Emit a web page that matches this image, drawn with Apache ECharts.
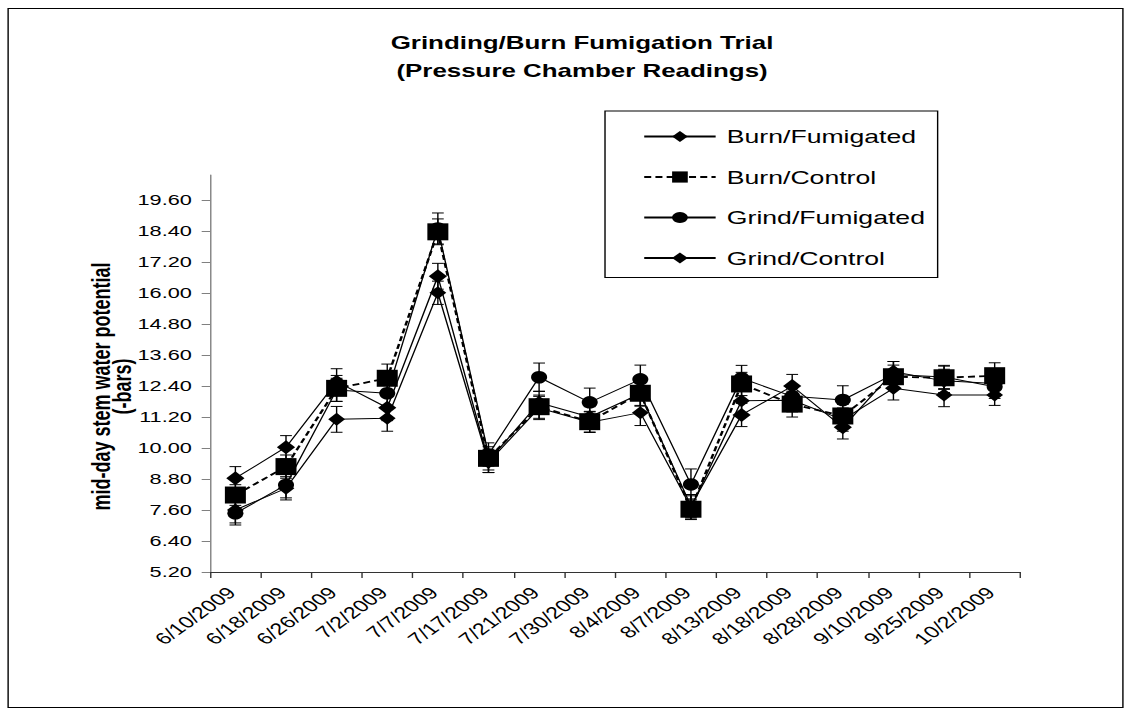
<!DOCTYPE html>
<html>
<head>
<meta charset="utf-8">
<script src="https://cdn.jsdelivr.net/npm/echarts@6/dist/echarts.min.js"></script>
<style>
html,body{margin:0;padding:0;background:#fff;overflow:hidden}
#wrap{width:1133px;height:717px;overflow:hidden}
#c{width:809px;height:717px;transform:scaleX(1.40049);transform-origin:0 0}
</style>
</head>
<body>
<div id="wrap"><div id="c"></div></div>
<script>
const categories = ['6/10/2009','6/18/2009','6/26/2009','7/2/2009','7/7/2009','7/17/2009','7/21/2009','7/30/2009','8/4/2009','8/7/2009','8/13/2009','8/18/2009','8/28/2009','9/10/2009','9/25/2009','10/2/2009'];
const burnFumigated = [8.83,10.03,12.57,11.56,16.65,9.50,11.75,11.20,12.10,7.75,11.28,12.40,10.80,12.95,12.60,12.50];
const burnControl   = [8.18,9.28,12.31,12.70,18.37,9.60,11.60,11.02,12.12,7.63,12.48,11.70,11.24,12.76,12.72,12.80];
const grindFumigated= [7.47,8.57,12.25,12.12,18.50,9.75,12.74,11.77,12.66,8.59,12.70,12.00,11.86,12.85,12.75,12.37];
const grindControl  = [7.60,8.44,11.11,11.15,16.01,9.45,11.55,11.00,11.37,7.70,11.83,11.85,11.10,12.31,12.05,12.05];
const errBurnFumigated = [0.45,0.45,0.50,0.50,0.50,0.45,0.45,0.40,0.45,0.45,0.45,0.45,0.45,0.40,0.45,0.40];
const errBurnControl   = [0.40,0.45,0.50,0.55,0.50,0.45,0.45,0.40,0.50,0.40,0.45,0.50,0.45,0.45,0.45,0.50];
const errGrindFumigated= [0.45,0.50,0.45,0.50,0.60,0.45,0.55,0.55,0.55,0.60,0.50,0.45,0.55,0.50,0.45,0.45];
const errGrindControl  = [0.50,0.45,0.50,0.50,0.45,0.40,0.45,0.40,0.50,0.45,0.50,0.45,0.45,0.45,0.45,0.40];
const yTicks = [5.2,6.4,7.6,8.8,10.0,11.2,12.4,13.6,14.8,16.0,17.2,18.4,19.6];

const chart = echarts.init(document.getElementById('c'), null, {renderer:'svg', width:809, height:717});
const font = 'Liberation Sans, Arial, sans-serif';

function errSeries(name, vals, errs){
  return {
    type:'custom', name: name+' err', silent:true, z:1,
    data: vals.map((v,i)=>[i, v-errs[i], v+errs[i]]),
    renderItem:function(params, api){
      const lo = api.coord([api.value(0), api.value(1)]);
      const hi = api.coord([api.value(0), api.value(2)]);
      const w = 4.2;
      const st = {stroke:'#000', lineWidth:1};
      return {type:'group', children:[
        {type:'line', shape:{x1:lo[0],y1:lo[1],x2:hi[0],y2:hi[1]}, style:st},
        {type:'line', shape:{x1:lo[0]-w,y1:lo[1],x2:lo[0]+w,y2:lo[1]}, style:st},
        {type:'line', shape:{x1:hi[0]-w,y1:hi[1],x2:hi[0]+w,y2:hi[1]}, style:st}
      ]};
    }
  };
}
function lineSeries(name, vals, symbol, size, dashed){
  return {
    type:'line', name:name, data:vals, symbol:symbol, symbolSize:size, z:3,
    itemStyle:{color:'#000'},
    lineStyle:{color:'#000', width: dashed?1.8:1, type: dashed?[5,3]:'solid'},
    animation:false
  };
}

chart.setOption({
  animation:false,
  backgroundColor:'#fff',
  title:{
    text:'Grinding/Burn Fumigation Trial\n(Pressure Chamber Readings)',
    left:410.6, top:24, textAlign:'center',
    textStyle:{fontFamily:font, fontSize:18.5, fontWeight:'bold', color:'#000', lineHeight:28}
  },
  graphic:[{type:'rect', shape:{x:5.8,y:8.5,width:796,height:699}, style:{fill:'none', stroke:'#000', lineWidth:1}, silent:true}],
  legend:{
    orient:'vertical', left:432, top:111,
    padding:[16,9,10,27], itemGap:21.5, itemWidth:51, itemHeight:14,
    borderColor:'#000', borderWidth:1, backgroundColor:'#fff',
    textStyle:{fontFamily:font, fontSize:19, color:'#000', padding:[0,0,0,3]},
    data:['Burn/Fumigated','Burn/Control','Grind/Fumigated','Grind/Control']
  },
  grid:{left:150, right:80.7, top:175, bottom:145, containLabel:false},
  xAxis:{
    type:'category', data:categories, boundaryGap:true,
    axisLine:{lineStyle:{color:'#333', width:1}},
    axisTick:{show:true, length:6, lineStyle:{color:'#333'}},
    axisLabel:{rotate:45, fontFamily:font, fontSize:16.5, color:'#000', margin:15, padding:[0,4,0,0], interval:0},
    splitLine:{show:false}
  },
  yAxis:{
    type:'value', min:5.2, max:20.57,
    name:'mid-day stem water potential\n(-bars)', nameLocation:'middle', nameRotate:90, nameGap:55, nameMoveOverlap:false,
    nameTextStyle:{fontFamily:'Liberation Sans Narrow, Liberation Sans, Arial', fontSize:18, fontWeight:'bold', color:'#000', lineHeight:15, padding:[0,26,0,0]},
    axisLine:{show:true, lineStyle:{color:'#808080', width:1}},
    axisTick:{show:true, length:6, inside:false, lineStyle:{color:'#808080'}, customValues:yTicks},
    axisLabel:{fontFamily:font, fontSize:15.5, color:'#000', margin:13, customValues:yTicks, formatter:v=>v.toFixed(2)},
    splitLine:{show:false}
  },
  series:[
    errSeries('Burn/Fumigated', burnFumigated, errBurnFumigated),
    errSeries('Burn/Control', burnControl, errBurnControl),
    errSeries('Grind/Fumigated', grindFumigated, errGrindFumigated),
    errSeries('Grind/Control', grindControl, errGrindControl),
    lineSeries('Burn/Fumigated', burnFumigated, 'diamond', [13,14], false),
    lineSeries('Burn/Control', burnControl, 'rect', [15,17], true),
    lineSeries('Grind/Fumigated', grindFumigated, 'circle', [11.5,12.5], false),
    lineSeries('Grind/Control', grindControl, 'diamond', [12,13], false)
  ]
});
</script>
</body>
</html>
